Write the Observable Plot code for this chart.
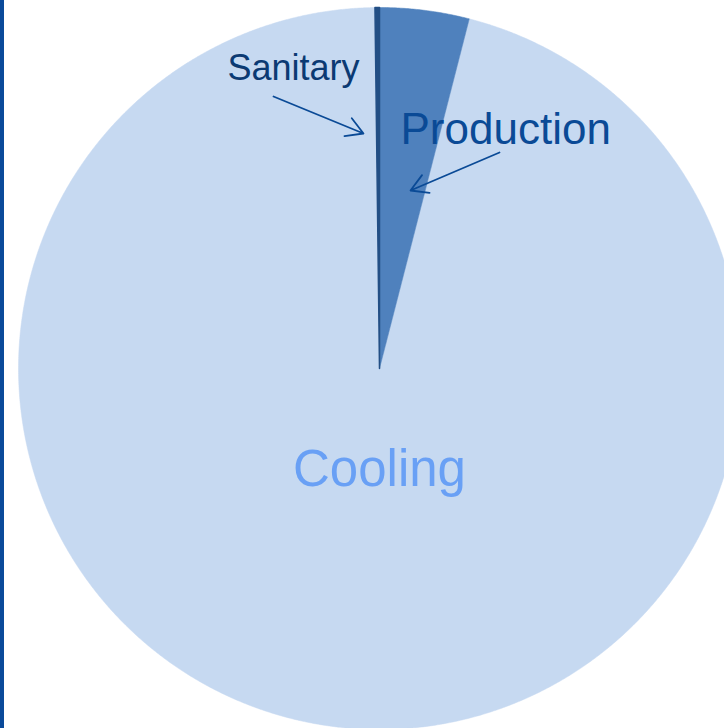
<!DOCTYPE html>
<html>
<head>
<meta charset="utf-8">
<script src="https://cdn.jsdelivr.net/npm/d3@7"></script>
<script src="https://cdn.jsdelivr.net/npm/@observablehq/plot@0.6"></script>
<style>
  html, body { margin: 0; padding: 0; background: #fff; }
  #wrap { position: relative; width: 724px; height: 728px; overflow: hidden; }
  #bar { position: absolute; left: 0; top: 0; width: 4px; height: 728px; background: #0a4a9a; z-index: 2; }
  #chart svg { overflow: hidden; display: block; }
</style>
</head>
<body>
<div id="wrap"><div id="bar"></div><div id="chart"></div></div>
<script>
// Data
const categories = ["Production", "Cooling", "Sanitary"];
const shares = [4.0, 95.8, 0.2];
const colors = ["#4f81bd", "#c6d9f1", "#234f85"];

// Labels
const labelText = ["Production", "Cooling", "Sanitary"];

const cx = 379, cy = 368, R = 361;
const toX = px => (px - cx) / R;
const toY = py => (cy - py) / R;

const pie = d3.pie().sort(null).value(d => d.value)
  .startAngle(0).endAngle(2 * Math.PI);
const arcs = pie(categories.map((c, i) => ({ category: c, value: shares[i], color: colors[i] })));

// Polygon vertices for each slice, from its pie angles
const slicePts = [];
arcs.forEach(a => {
  const n = Math.max(2, Math.ceil((a.endAngle - a.startAngle) / 0.005));
  slicePts.push({ cat: a.data.category, x: 0, y: 0 });
  for (let k = 0; k <= n; k++) {
    const t = a.startAngle + (a.endAngle - a.startAngle) * k / n;
    slicePts.push({ cat: a.data.category, x: Math.sin(t), y: Math.cos(t) });
  }
  slicePts.push({ cat: a.data.category, x: 0, y: 0 });
});

const labels = [
  { text: labelText[1], x: toX(379), y: toY(485), fill: "#69a0f5" },
  { text: labelText[0], x: toX(400), y: toY(143), fill: "#0a4a96" },
  { text: labelText[2], x: toX(227), y: toY(79), fill: "#0b3a73" }
];
const arrows = [
  { x1: toX(273), y1: toY(96), x2: toX(363), y2: toY(133) },
  { x1: toX(499), y1: toY(152), x2: toX(410), y2: toY(190) }
];

const chart = Plot.plot({
  width: 724,
  height: 728,
  margin: 0,
  x: { domain: [-1, 1], range: [cx - R, cx + R], axis: null },
  y: { domain: [-1, 1], range: [cy + R, cy - R], axis: null },
  style: { fontFamily: "Liberation Sans, Arial, sans-serif", background: "transparent" },
  marks: [
    Plot.line(slicePts.filter(d => d.cat === "Cooling"), { x: "x", y: "y", fill: colors[1], stroke: colors[1], strokeWidth: 0.5, curve: "linear" }),
    Plot.line(slicePts.filter(d => d.cat === "Production"), { x: "x", y: "y", fill: colors[0], stroke: colors[0], strokeWidth: 0.5, curve: "linear" }),
    Plot.line(slicePts.filter(d => d.cat === "Sanitary"), { x: "x", y: "y", fill: colors[2], stroke: colors[2], strokeWidth: 1.5, curve: "linear" }),
    Plot.text([labels[0]], { x: "x", y: "y", text: "text", fill: "fill", fontSize: 51, textAnchor: "middle", lineAnchor: "bottom" }),
    Plot.text([labels[1]], { x: "x", y: "y", text: "text", fill: "fill", fontSize: 44, textAnchor: "start", lineAnchor: "bottom" }),
    Plot.text([labels[2]], { x: "x", y: "y", text: "text", fill: "fill", fontSize: 36, textAnchor: "start", lineAnchor: "bottom" }),
    Plot.arrow(arrows, { x1: "x1", y1: "y1", x2: "x2", y2: "y2", stroke: "#0a4a96", strokeWidth: 1.8, headLength: 16, bend: 0 })
  ]
});
document.getElementById("chart").appendChild(chart);
</script>
</body>
</html>
